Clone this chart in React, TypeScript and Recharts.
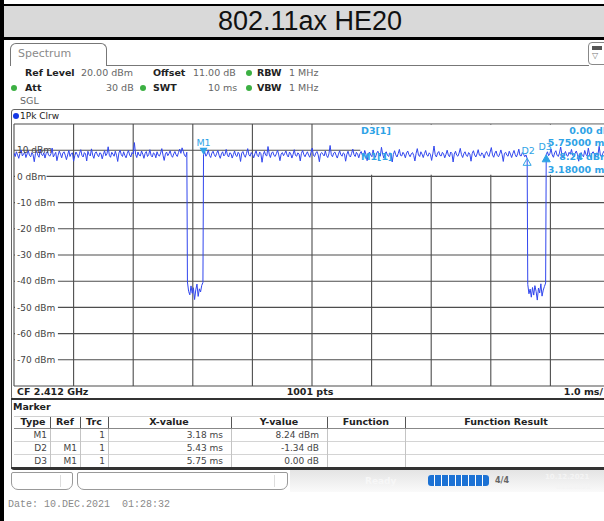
import React from 'react';
import {
    ComposedChart,
    Line,
    XAxis,
    YAxis,
    CartesianGrid,
    ReferenceArea,
    ReferenceDot,
} from 'recharts';

const FONT = '"DejaVu Sans", Verdana, sans-serif';
const MARKER_BLUE = '#2fa3e6';
const TRACE_BLUE = '#3146ee';

// axis ticks: 1.0 ms/div over a 10 ms sweep, 10 dB/div from 20 dBm ref level
const sweepTicks = [0, 1, 2, 3, 4, 5, 6, 7, 8, 9, 10];
const levelTicks = [-80, -70, -60, -50, -40, -30, -20, -10, 0, 10, 20];

// trace levels (dBm), one list per stretch of the sweep
const burstA = [
    8.9, 7.6, 9.4, 8.2, 6.9, 8.8, 10.1, 7.8, 8.5, 9.3,
    7.2, 8.6, 9.8, 8.0, 7.5, 9.1, 8.3, 5.6, 8.7, 9.6,
    8.1, 7.3, 10.4, 8.4, 7.9, 9.0, 7.0, 8.8, 9.5, 8.2,
    7.7, 8.6, 10.8, 7.4, 8.3, 9.2, 6.0, 8.0, 9.7, 8.5,
    7.1, 8.9, 9.4, 8.1, 6.4, 8.2, 9.9, 7.6, 8.7, 9.0,
    5.8, 7.9, 9.3, 8.4, 7.2, 8.8, 10.2, 8.0, 7.4, 9.1,
    8.6, 5.9, 9.6, 8.3, 7.8, 10.5, 8.1, 6.9, 8.9, 9.4,
    8.2, 7.5, 9.0, 8.7, 6.7, 8.4, 9.8, 7.9, 8.6, 11.3,
    8.0, 7.3, 9.2, 8.5, 7.7, 9.6, 8.1, 5.7, 8.9, 10.0,
    8.3, 7.6, 9.4, 8.0, 7.1, 8.7, 9.9, 8.2, 7.4, 9.1,
    8.6, 12.9, 8.4, 7.2, 9.3, 8.1, 7.8, 9.7, 8.5, 6.9,
    8.8, 9.5, 7.6, 8.3, 10.2, 8.0, 7.4, 9.0, 8.6, 7.1,
    9.4, 8.2, 7.7, 8.9, 10.6, 8.1, 6.1, 8.5, 9.3, 7.9,
    8.7, 9.8, 8.0, 7.3, 8.6, 9.5, 8.2, 7.6, 9.1, 10.4,
    8.8, 10.9, 9.6, 8.1, 7.5, 9.2,
];
const gapA = [
    -40.3, -43.9, -45.2, -41.8, -44.6, -42.5, -47.0,
    -43.3, -41.1, -45.8, -42.9, -44.1, -41.6, -40.5,
];
const burstB = [
    8.24, 9.3, 7.7, 8.5, 10.1, 8.0, 7.2, 8.9, 9.6, 8.3,
    7.5, 8.8, 9.9, 8.1, 6.9, 8.6, 9.4, 7.8, 8.4, 10.3,
    8.2, 7.4, 9.0, 8.7, 7.0, 8.3, 9.7, 8.0, 7.6, 9.2,
    8.5, 5.7, 8.9, 9.5, 8.1, 7.3, 8.8, 10.6, 8.2, 7.7,
    9.1, 8.4, 7.1, 8.6, 9.8, 8.0, 7.5, 9.3, 8.7, 5.4,
    8.3, 9.6, 8.1, 7.8, 11.4, 8.5, 7.2, 8.9, 9.4, 8.0,
    7.6, 8.7, 10.0, 8.2, 6.0, 8.5, 9.1, 7.9, 8.8, 9.7,
    8.1, 7.4, 9.3, 8.6, 7.0, 8.4, 10.2, 8.0, 7.7, 9.0,
    8.5, 5.9, 8.8, 9.9, 8.3, 7.5, 8.6, 9.4, 8.1, 7.3,
    9.2, 10.8, 8.0, 7.6, 8.9, 9.5, 8.2, 5.6, 8.7, 9.1,
    8.4, 7.8, 9.7, 8.0, 7.2, 8.6, 11.8, 8.3, 7.5, 8.9,
    9.3, 8.1, 7.0, 8.5, 9.8, 8.2, 7.7, 9.0, 8.6, 5.8,
    8.4, 9.6, 8.0, 7.4, 8.8, 10.4, 8.3, 7.6, 9.2, 8.5,
    7.1, 8.7, 9.5, 8.1, 7.8, 9.9, 8.4, 6.0, 8.6, 9.3,
    8.2, 7.5, 10.1, 8.0, 7.3, 8.9, 9.6, 8.3, 7.7, 11.1,
    8.5, 7.0, 8.8, 9.4, 8.1, 7.6, 9.0, 8.6, 5.5, 8.4,
    9.8, 8.2, 7.4, 8.7, 10.3, 8.0, 7.8, 9.2, 8.5, 7.1,
    8.9, 9.7, 8.3, 7.5, 8.6, 9.1, 8.0, 5.9, 8.8, 10.6,
    8.2, 7.6, 9.4, 8.5, 7.2, 8.7, 9.9, 8.1, 7.7, 9.0,
    8.4, 6.1, 8.6, 11.6, 8.3, 7.4, 8.9, 9.5, 8.0, 7.8,
    9.2, 8.6, 7.1, 8.4, 10.0, 8.2, 7.5, 9.3, 8.8, 5.5,
    8.5, 9.6, 8.1, 7.7, 8.9, 10.7, 8.3, 7.2, 8.7, 9.4,
    8.0, 7.6, 9.1, 8.5, 5.8, 8.8, 9.8, 8.2, 7.4, 8.6,
    10.2, 8.1, 7.8, 9.0, 8.4, 7.0, 8.7, 9.5, 8.3, 7.6,
    9.3, 11.0, 8.2, 7.3, 8.9, 9.7, 8.0, 7.5, 8.6, 10.1,
    8.4, 5.7, 8.8, 9.2, 8.1, 7.7, 9.6, 8.5, 7.2, 8.7,
    9.9, 8.3, 7.4, 8.6, 10.4, 8.0, 7.8, 9.1, 8.5, 7.5,
    8.2, 6.9,
];
const gapB = [
    -41.2, -44.8, -43.0, -46.1, -42.4, -45.3, -41.7, -43.9,
    -47.2, -42.6, -44.5, -41.0, -45.7, -43.4, -42.0, -40.7,
];
const burstC = [
    8.24, 9.4, 7.9, 8.7, 10.5, 8.2, 7.3, 9.0, 9.8, 8.1,
    7.6, 8.9, 11.2, 8.4, 7.0, 8.6, 9.5, 8.0, 7.7, 9.2,
    8.5, 10.3, 8.1, 7.4, 8.8, 9.7, 8.3, 5.8, 8.6, 9.1,
    8.0, 7.5, 9.9, 8.4, 7.8, 10.8, 8.2, 7.2, 8.9, 9.4,
    8.6, 7.7, 9.0, 8.3, 11.5, 8.1, 7.4, 8.8, 9.6, 8.5,
    7.9, 9.3, 8.2, 7.6,
];

// start / end time (ms) of each stretch
const traceSegments = [
    { from: 0, to: 2.9, levels: burstA },
    { from: 2.91, to: 3.17, levels: gapA },
    { from: 3.18, to: 8.61, levels: burstB },
    { from: 8.62, to: 8.92, levels: gapB },
    { from: 8.93, to: 10, levels: burstC },
];

// markers
const markerNames = ['M1', 'D2', 'D3'];
const markerTimes = [3.18, 8.61, 8.93];
const markerLevels = [8.24, 6.9, 8.24];

// marker table
const tableTypes = ['M1', 'D2', 'D3'];
const tableRefs = ['', 'M1', 'M1'];
const tableTraces = ['1', '1', '1'];
const tableXValues = ['3.18 ms', '5.43 ms', '5.75 ms'];
const tableYValues = ['8.24 dBm', '-1.34 dB', '0.00 dB'];

const traceData = traceSegments.flatMap((seg) =>
    seg.levels.map((level, i) => ({
        t: seg.from + (i * (seg.to - seg.from)) / (seg.levels.length - 1),
        level,
    }))
);

interface TxtProps {
    x?: number;
    right?: number;
    cx?: number;
    y: number;
    size?: number;
    bold?: boolean;
    color?: string;
    font?: string;
    children: React.ReactNode;
}

const Txt: React.FC<TxtProps> = ({ x, right, cx, y, size = 9.5, bold, color = '#333', font, children }) => {
    const pos: React.CSSProperties =
        right !== undefined
            ? { right }
            : cx !== undefined
            ? { left: cx - 150, width: 300, textAlign: 'center' }
            : { left: x };
    return (
        <div
            style={{
                position: 'absolute',
                top: y - 8,
                height: 16,
                lineHeight: '16px',
                fontSize: size,
                fontWeight: bold ? 'bold' : 'normal',
                color,
                fontFamily: font ?? FONT,
                whiteSpace: 'pre',
                ...pos,
            }}
        >
            {children}
        </div>
    );
};

const Box: React.FC<{ x: number; y: number; w: number; h: number; style?: React.CSSProperties }> = ({ x, y, w, h, style }) => (
    <div style={{ position: 'absolute', left: x, top: y, width: w, height: h, boxSizing: 'border-box', ...style }} />
);

const Dot: React.FC<{ x: number; y: number; color: string; r?: number }> = ({ x, y, color, r = 3 }) => (
    <div style={{ position: 'absolute', left: x - r, top: y - r, width: r * 2, height: r * 2, borderRadius: r, background: color }} />
);

const LevelTick = (props: any) => {
    const { y, payload } = props;
    const v = payload.value;
    if (v === 20 || v === -80) return <g />;
    const label = `${v} dBm`;
    const w = label.length * 5.7 + 3;
    return (
        <g>
            {v !== 10 && <rect x={15} y={y - 5} width={w} height={10} fill="#fff" />}
            <text x={17} y={y} dy="0.35em" fontSize={9} fill="#444" fontFamily={FONT} textAnchor="start">
                {label}
            </text>
        </g>
    );
};

const makeMarkerShape = (name: string) => (props: any) => {
    const { cx, cy } = props;
    if (name === 'M1') {
        return (
            <g>
                <polygon points={`${cx - 4},${cy - 7} ${cx + 4},${cy - 7} ${cx},${cy}`} fill={MARKER_BLUE} />
                <text x={cx} y={cy - 12} textAnchor="middle" dy="0.35em" fontSize={9.5} fill={MARKER_BLUE} fontFamily={FONT}>
                    {name}
                </text>
            </g>
        );
    }
    const hollow = name === 'D2';
    return (
        <g>
            <polygon
                points={`${cx},${cy} ${cx - 4},${cy + 7} ${cx + 4},${cy + 7}`}
                fill={hollow ? 'none' : MARKER_BLUE}
                stroke={MARKER_BLUE}
                strokeWidth={1}
            />
            <text
                x={hollow ? cx + 1 : cx - 1}
                y={cy - 8}
                textAnchor="middle"
                dy="0.35em"
                fontSize={9.5}
                fill={MARKER_BLUE}
                fontFamily={FONT}
            >
                {name}
            </text>
        </g>
    );
};

const colSeps = [50, 80, 108, 231, 327, 405];
const rowTops = [428, 441, 454];

const App: React.FC = () => {
    return (
        <div
            style={{
                position: 'absolute',
                left: 0,
                top: 0,
                width: 604,
                height: 521,
                overflow: 'hidden',
                background: '#fff',
                fontFamily: FONT,
            }}
        >
            {/* title band */}
            <Box x={0} y={4} w={604} h={2} style={{ background: '#000' }} />
            <Box x={0} y={6} w={604} h={31} style={{ background: '#d9d9d9' }} />
            <Box x={0} y={37} w={604} h={3} style={{ background: '#000' }} />
            <div
                style={{
                    position: 'absolute',
                    left: 4,
                    width: 612,
                    top: 6,
                    height: 31,
                    lineHeight: '31px',
                    textAlign: 'center',
                    fontSize: 27,
                    fontFamily: '"Liberation Sans", Arial, sans-serif',
                    color: '#111',
                }}
            >
                802.11ax HE20
            </div>

            {/* tab */}
            <Box x={10} y={43} w={97} h={23} style={{ border: '1px solid #777', borderBottom: 'none', borderRadius: '6px 6px 0 0' }} />
            <Box x={107} y={65} w={482} h={1} style={{ background: '#777' }} />
            <Txt x={18} y={54} size={11} color="#8a8a8a">Spectrum</Txt>
            <Box x={588} y={42} w={22} h={23} style={{ border: '1px solid #888', borderRadius: 4 }} />
            <Box x={592} y={46} w={10} h={4} style={{ background: '#555' }} />
            <Txt x={592} y={56} size={8} color="#777">▽</Txt>

            {/* settings */}
            <Txt x={25} y={73} bold color="#222">Ref Level</Txt>
            <Txt x={81} y={73} color="#666">20.00 dBm</Txt>
            <Txt x={153} y={73} bold color="#222">Offset</Txt>
            <Txt x={193} y={73} color="#666">11.00 dB</Txt>
            <Dot x={249} y={73} color="#3cb043" />
            <Txt x={257} y={73} bold color="#222">RBW</Txt>
            <Txt x={289} y={73} color="#666">1 MHz</Txt>

            <Dot x={14} y={88} color="#3cb043" />
            <Txt x={25} y={88} bold color="#222">Att</Txt>
            <Txt x={106} y={88} color="#666">30 dB</Txt>
            <Dot x={143} y={88} color="#3cb043" />
            <Txt x={153} y={88} bold color="#222">SWT</Txt>
            <Txt x={208} y={88} color="#666">10 ms</Txt>
            <Dot x={249} y={88} color="#3cb043" />
            <Txt x={257} y={88} bold color="#222">VBW</Txt>
            <Txt x={289} y={88} color="#666">1 MHz</Txt>

            <Txt x={20} y={101} color="#666">SGL</Txt>

            {/* diagram frame */}
            <Box x={11} y={109} w={620} h={291} style={{ border: '1px solid #666', borderRadius: 3 }} />
            <Dot x={16} y={116} color="#1538e6" />
            <Txt x={20} y={116} size={9} color="#222">1Pk Clrw</Txt>

            <div style={{ position: 'absolute', left: 0, top: 108 }}>
                <ComposedChart
                    width={620}
                    height={290}
                    data={traceData}
                    margin={{ top: 16, right: 10, bottom: 12, left: 14 }}
                >
                    <CartesianGrid stroke="#4d4d4d" strokeWidth={1.1} />
                    <XAxis
                        type="number"
                        dataKey="t"
                        domain={[0, 10]}
                        ticks={sweepTicks}
                        hide
                        allowDataOverflow
                    />
                    <YAxis
                        type="number"
                        domain={[-80, 20]}
                        ticks={levelTicks}
                        interval={0}
                        mirror
                        width={60}
                        axisLine={false}
                        tickLine={false}
                        tick={LevelTick}
                        allowDataOverflow
                    />
                    <ReferenceArea
                        x1={5.81}
                        x2={10}
                        y1={0.6}
                        y2={19.7}
                        fill="#fff"
                        fillOpacity={1}
                        stroke="none"
                    />
                    <Line
                        type="linear"
                        dataKey="level"
                        stroke={TRACE_BLUE}
                        strokeWidth={1}
                        dot={false}
                        isAnimationActive={false}
                    />
                    {markerNames.map((name, i) => (
                        <ReferenceDot
                            key={name}
                            x={markerTimes[i]}
                            y={markerLevels[i]}
                            r={4}
                            shape={makeMarkerShape(name)}
                        />
                    ))}
                </ComposedChart>
            </div>

            {/* marker info */}
            <Txt x={361} y={131} bold color={MARKER_BLUE}>D3[1]</Txt>
            <Txt right={-6} y={131} bold color={MARKER_BLUE}>{tableYValues[2]}</Txt>
            <Txt right={-6} y={143} bold color={MARKER_BLUE}>5.75000 ms</Txt>
            <Txt x={361} y={157} bold color={MARKER_BLUE}>M1[1]</Txt>
            <Txt right={-6} y={157} bold color={MARKER_BLUE}>{tableYValues[0]}</Txt>
            <Txt right={-6} y={170} bold color={MARKER_BLUE}>3.18000 ms</Txt>

            {/* footer of diagram */}
            <Txt x={17} y={392} bold color="#222">CF 2.412 GHz</Txt>
            <Txt cx={310} y={392} bold color="#222">1001 pts</Txt>
            <Txt right={1} y={392} bold color="#222">1.0 ms/</Txt>
            <Box x={11} y={398} w={600} h={2} style={{ background: '#333' }} />

            {/* marker table */}
            <Box x={11} y={400} w={1} h={69} style={{ background: '#666' }} />
            <Txt x={13} y={407} bold size={9.5} color="#222">Marker</Txt>
            <Box x={14} y={416} w={590} h={1} style={{ background: '#d0d0d0' }} />
            <Box x={14} y={428} w={590} h={1} style={{ background: '#888' }} />
            {rowTops.slice(1).map((t) => (
                <Box key={t} x={14} y={t} w={590} h={1} style={{ background: '#d4d4d4' }} />
            ))}
            {colSeps.map((s) => (
                <React.Fragment key={s}>
                    <Box x={s} y={417} w={1} h={11} style={{ background: '#555' }} />
                    <Box x={s} y={429} w={1} h={38} style={{ background: '#c4c4c4' }} />
                </React.Fragment>
            ))}
            <Txt cx={33} y={422} bold color="#222">Type</Txt>
            <Txt cx={65} y={422} bold color="#222">Ref</Txt>
            <Txt cx={94} y={422} bold color="#222">Trc</Txt>
            <Txt cx={169} y={422} bold color="#222">X-value</Txt>
            <Txt cx={279} y={422} bold color="#222">Y-value</Txt>
            <Txt cx={366} y={422} bold color="#222">Function</Txt>
            <Txt cx={506} y={422} bold color="#222">Function Result</Txt>
            {tableTypes.map((type, i) => {
                const cy = rowTops[i] + 7;
                return (
                    <React.Fragment key={type}>
                        <Txt right={604 - colSeps[0] + 3} y={cy} size={9} color="#444">{type}</Txt>
                        <Txt right={604 - colSeps[1] + 3} y={cy} size={9} color="#444">{tableRefs[i]}</Txt>
                        <Txt right={604 - colSeps[2] + 3} y={cy} size={9} color="#444">{tableTraces[i]}</Txt>
                        <Txt right={604 - colSeps[3] + 8} y={cy} size={9} color="#444">{tableXValues[i]}</Txt>
                        <Txt right={604 - colSeps[4] + 8} y={cy} size={9} color="#444">{tableYValues[i]}</Txt>
                    </React.Fragment>
                );
            })}
            <Box x={11} y={467} w={600} h={3} style={{ background: '#333', borderBottomLeftRadius: 3 }} />

            {/* status bar */}
            <Box x={290} y={470} w={320} h={22} style={{ background: 'linear-gradient(#e4e4e4, #fafafa)' }} />
            <Box x={11} y={472} w={62} h={18} style={{ border: '1px solid #999', borderRadius: '2px 2px 7px 7px' }} />
            <Box x={60} y={475} w={1} h={12} style={{ background: '#ddd' }} />
            <Box x={77} y={472} w={211} h={18} style={{ border: '1px solid #999', borderRadius: '2px 2px 7px 7px' }} />
            <Box x={274} y={475} w={1} h={12} style={{ background: '#ddd' }} />
            <Txt x={365} y={481} bold size={9} color="#f7f7f7">Ready</Txt>
            <div
                style={{
                    position: 'absolute',
                    left: 428,
                    top: 475,
                    width: 61,
                    height: 11,
                    display: 'flex',
                    gap: 1,
                    background: '#fff',
                    borderRadius: 3,
                    overflow: 'hidden',
                }}
            >
                {[0, 1, 2, 3, 4, 5, 6, 7, 8].map((k) => (
                    <div key={k} style={{ flex: 1, background: '#1c72d4' }} />
                ))}
            </div>
            <Txt x={495} y={481} bold size={8} color="#666">4/4</Txt>
            <Txt x={545} y={477} bold size={7} color="#f4f4f4">10.12.2021</Txt>
            <Txt x={556} y={487} bold size={7} color="#f4f4f4">01:28:31</Txt>

            {/* left edge */}
            <Box x={0} y={0} w={4} h={521} style={{ background: '#000' }} />

            <Txt x={8} y={505} size={10} color="#8a8a8a" font='"Liberation Mono", monospace'>
                {'Date: 10.DEC.2021  01:28:32'}
            </Txt>
        </div>
    );
};

export default App;
